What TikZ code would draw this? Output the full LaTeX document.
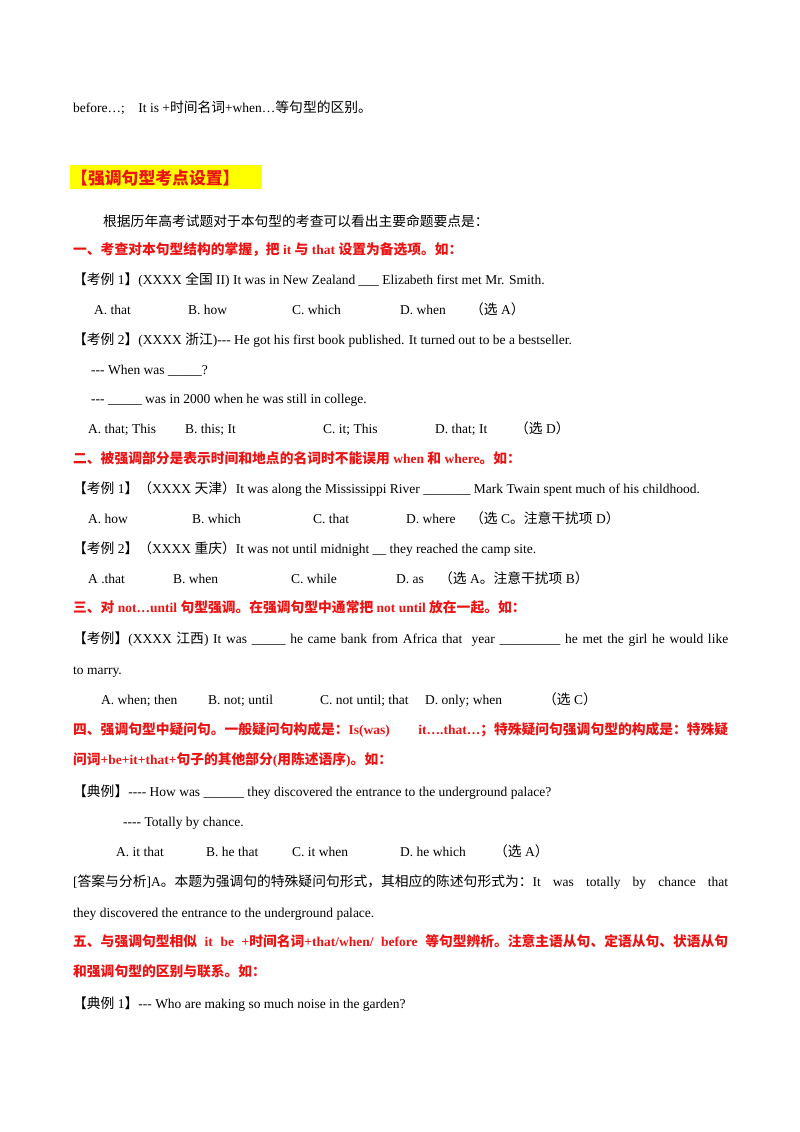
\documentclass[tikz,border=0pt]{standalone}
\usepackage{fontspec}
\setmainfont{Liberation Serif}
\newfontfamily\cjk[Scale=1.02]{Noto Sans CJK SC}
\newcommand\zh[1]{{\cjk #1}}
\newcommand\hy{\mbox{-}}
\newcommand\dsh{\hy\hy\hy}
\newcommand\dsf{\hy\hy\hy\hy}
\XeTeXlinebreaklocale "zh"
\XeTeXlinebreakskip=0pt plus 1pt
\definecolor{hred}{RGB}{235,20,20}
\definecolor{hyel}{RGB}{255,255,0}
\tikzset{t/.style={anchor=base west,inner sep=0pt,font=\fontsize{13.5}{16}\selectfont},
 r/.style={t,text=hred,font=\fontsize{13.5}{16}\selectfont\bfseries}}
\newcommand\full[1]{\makebox[655pt][s]{#1}}
\begin{document}
\begin{tikzpicture}[x=1pt,y=-1pt]
\useasboundingbox[fill=white] (0,0) rectangle (800,1132);
\node[t] (a1) at (73,112) {before…;\quad It is +\zh{时间名词}+when…\zh{等句型的区别。}};
\fill[hyel] (70,165) rectangle (262,189);
\node[r,font=\fontsize{16.5}{18}\selectfont\bfseries] (a2) at (71,184) {\zh{【强调句型考点设置】}};
\node[t] (a3) at (103,226) {\zh{根据历年高考试题对于本句型的考查可以看出主要命题要点是：}};
\node[r] (a4) at (73,254) {\zh{一、考查对本句型结构的掌握，把} it \zh{与} that \zh{设置为备选项。如：}};
\node[t] (a5) at (73,284) {\zh{【考例} 1\zh{】}(XXXX \zh{全国} II) It was in New Zealand \_\_\_ Elizabeth first met Mr. Smith.};
\node[t] (a6a) at (94,314) {A. that}; \node[t] (a6b) at (188,314) {B. how}; \node[t] (a6c) at (292,314) {C. which}; \node[t] (a6d) at (400,314) {D. when}; \node[t] (a6e) at (470,314) {\zh{（选} A\zh{）}};
\node[t] (a7) at (73,344) {\zh{【考例} 2\zh{】}(XXXX \zh{浙江})\dsh{} He got his first book published. It turned out to be a bestseller.};
\node[t] (a8) at (91,374) {\dsh{} When was \_\_\_\_\_?};
\node[t] (a9) at (91,403) {\dsh{} \_\_\_\_\_ was in 2000 when he was still in college.};
\node[t] (b1a) at (88,433) {A. that; This}; \node[t] (b1b) at (185,433) {B. this; It}; \node[t] (b1c) at (323,433) {C. it; This}; \node[t] (b1d) at (435,433) {D. that; It}; \node[t] (b1e) at (515,433) {\zh{（选} D\zh{）}};
\node[r] (b2) at (73,463) {\zh{二、被强调部分是表示时间和地点的名词时不能误用} when \zh{和} where\zh{。如：}};
\node[t] (b3) at (73,493) {\zh{【考例} 1\zh{】（}XXXX \zh{天津）}It was along the Mississippi River \_\_\_\_\_\_\_ Mark Twain spent much of his childhood.};
\node[t] (b4a) at (88,523) {A. how}; \node[t] (b4b) at (192,523) {B. which}; \node[t] (b4c) at (313,523) {C. that}; \node[t] (b4d) at (406,523) {D. where}; \node[t] (b4e) at (470,523) {\zh{（选} C\zh{。注意干扰项} D\zh{）}};
\node[t] (b5) at (73,553) {\zh{【考例} 2\zh{】（}XXXX \zh{重庆）}It was not until midnight \_\_ they reached the camp site.};
\node[t] (b6a) at (88,583) {A .that}; \node[t] (b6b) at (173,583) {B. when}; \node[t] (b6c) at (291,583) {C. while}; \node[t] (b6d) at (396,583) {D. as}; \node[t] (b6e) at (439,583) {\zh{（选} A\zh{。注意干扰项} B\zh{）}};
\node[r] (b7) at (73,612) {\zh{三、对} not…until \zh{句型强调。在强调句型中通常把} not until \zh{放在一起。如：}};
\node[t] (b8) at (73,643) {\full{\zh{【考例】}(XXXX \zh{江西}) It was \_\_\_\_\_ he came bank from Africa that\ \ year \_\_\_\_\_\_\_\_\_ he met the girl he would like}};
\node[t] (b9) at (73,674) {to marry.};
\node[t] (c1a) at (101,704) {A. when; then}; \node[t] (c1b) at (208,704) {B. not; until}; \node[t] (c1c) at (320,704) {C. not until; that}; \node[t] (c1d) at (425,704) {D. only; when}; \node[t] (c1e) at (543,704) {\zh{（选} C\zh{）}};
\node[r] (c2) at (73,734) {\full{\zh{四、强调句型中疑问句。一般疑问句构成是：}Is(was) it….that…\zh{；特殊疑问句强调句型的构成是：特殊疑}}};
\node[r] (c3) at (73,764) {\zh{问词}+be+it+that+\zh{句子的其他部分}(\zh{用陈述语序})\zh{。如：}};
\node[t] (c4) at (73,796) {\zh{【典例】}\dsf{} How was \_\_\_\_\_\_ they discovered the entrance to the underground palace?};
\node[t] (c5) at (123,826) {\dsf{} Totally by chance.};
\node[t] (c6a) at (116,856) {A. it that}; \node[t] (c6b) at (206,856) {B. he that}; \node[t] (c6c) at (292,856) {C. it when}; \node[t] (c6d) at (400,856) {D. he which}; \node[t] (c6e) at (494,856) {\zh{（选} A\zh{）}};
\node[t] (c7) at (73,886) {\full{[\zh{答案与分析}]A\zh{。本题为强调句的特殊疑问句形式，其相应的陈述句形式为：}It was totally by chance that}};
\node[t] (c8) at (73,917) {they discovered the entrance to the underground palace.};
\node[r] (c9) at (73,946) {\full{\zh{五、与强调句型相似} it be +\zh{时间名词}+that/when/ before \zh{等句型辨析。注意主语从句、定语从句、状语从句}}};
\node[r] (d1) at (73,976) {\zh{和强调句型的区别与联系。如：}};
\node[t] (d2) at (73,1008) {\zh{【典例} 1\zh{】}\dsh{} Who are making so much noise in the garden?};
\end{tikzpicture}
\end{document}
